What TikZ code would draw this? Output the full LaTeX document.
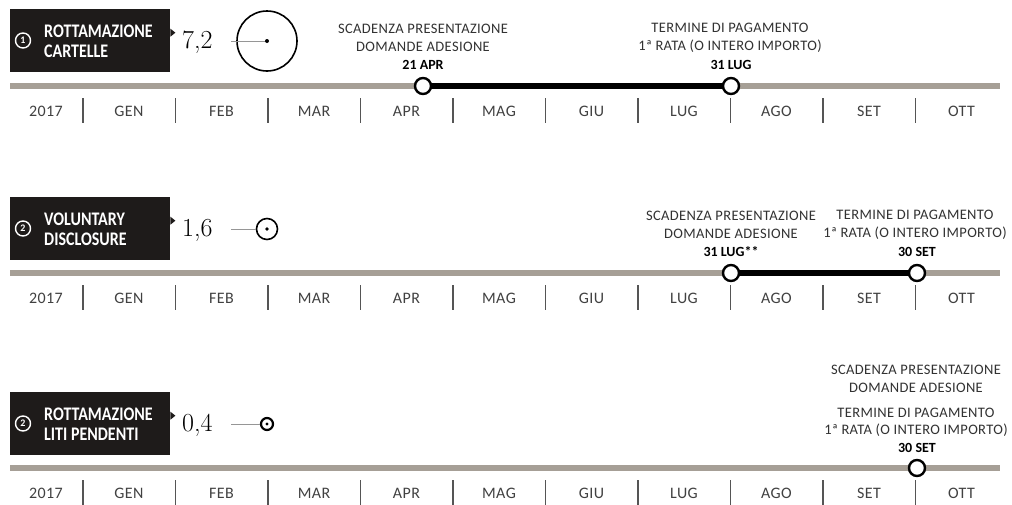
\documentclass[tikz,border=0pt]{standalone}
\usepackage{fontspec}
\newfontfamily\sans{Carlito}
\newfontfamily\sanswide[LetterSpace=2.5]{Carlito}
\definecolor{barc}{RGB}{166,159,150}
\definecolor{boxc}{RGB}{30,27,26}
\definecolor{annc}{RGB}{50,50,50}
\definecolor{monc}{RGB}{65,65,65}
\definecolor{tickc}{RGB}{85,85,85}
\definecolor{leadc}{RGB}{150,150,150}
\newcommand{\tall}[1]{\scalebox{1}[1.2]{#1}}
\tikzset{
  bar/.style={draw=barc, line width=5.5pt},
  seg/.style={draw=black, line width=5.5pt},
  mark circ/.style={circle, draw=black, fill=white, line width=2.4pt, minimum size=16pt, inner sep=0pt},
  tickln/.style={draw=tickc, line width=1.3pt},
  month/.style={font=\sanswide\fontsize{16}{18}\selectfont, text=monc, inner sep=0pt},
  ann/.style={font=\sanswide\fontsize{14.5}{17.5}\selectfont, text=annc, align=center, inner sep=0pt},
  datelbl/.style={font=\sans\bfseries\fontsize{14}{16}\selectfont, text=black, inner sep=0pt},
  labelbox/.style={fill=boxc, minimum width=160pt, minimum height=63pt, inner sep=0pt, anchor=north west},
  title/.style={font=\sans\bfseries\fontsize{16}{20}\selectfont, text=white, align=left, inner sep=0pt, anchor=west},
  numc/.style={circle, draw=white, line width=1.4pt, minimum size=15pt, inner sep=0pt, text=white, font=\sans\bfseries\fontsize{10}{10}\selectfont},
  val/.style={font=\fontsize{26}{28}\selectfont, inner sep=0pt, anchor=west},
  lead/.style={draw=leadc, line width=0.9pt},
  pointer/.style={fill=boxc}
}
\newcommand{\timeline}[1]{%
  \draw[bar] (10,#1) -- (1000,#1);
  \foreach \k in {0,...,9} \draw[tickln] ({83+92.5*\k},{#1+12}) -- ({83+92.5*\k},{#1+37});
  \node[month] at (46,{#1+25}) {2017};
  \foreach \m [count=\i from 0] in {GEN,FEB,MAR,APR,MAG,GIU,LUG,AGO,SET,OTT}
    \node[month] at ({129+92.5*\i},{#1+25}) {\m};
}
\begin{document}
\begin{tikzpicture}[x=1pt,y=-1pt]
\useasboundingbox[fill=white] (0,0) rectangle (1012,504);

% ---------- 1: rottamazione cartelle ----------
\timeline{86}
\node[labelbox] (b1) at (10,9) {};
\fill[pointer] ([yshift=4pt]b1.east) -- ++(5,-4) -- ++(-5,-4) -- cycle;
\node[numc] (n1) at (23,40.5) {1};
\node[title] (t1) at (44,41) {\tall{ROTTAMAZIONE}\\\tall{CARTELLE}};
\node[val] (v1) at (182,42) {7,2};
\node[circle, draw=black, line width=1.6pt, minimum size=60pt, inner sep=0pt] (k1) at (267,41) {};
\coordinate (l1) at (231,41);
\draw[lead] (l1) -- (k1.center);
\fill (k1.center) circle (2);
\coordinate (p11) at (423,86);
\coordinate (p12) at (731,86);
\draw[seg] (p11) -- (p12);
\node[mark circ] (c11) at (p11) {};
\node[mark circ] (c12) at (p12) {};
\node[ann] (a11) at (423,38) {SCADENZA PRESENTAZIONE\\DOMANDE ADESIONE};
\node[datelbl] (d11) at (423,65) {21 APR};
\node[ann] (a12) at (730,38) {TERMINE DI PAGAMENTO\\1ª RATA (O INTERO IMPORTO)};
\node[datelbl] (d12) at (731,65) {31 LUG};

% ---------- 2: voluntary disclosure ----------
\timeline{273}
\node[labelbox] (b2) at (10,197) {};
\fill[pointer] ([yshift=4pt]b2.east) -- ++(5,-4) -- ++(-5,-4) -- cycle;
\node[numc] (n2) at (23,228.5) {2};
\node[title] (t2) at (44,229) {\tall{VOLUNTARY}\\\tall{DISCLOSURE}};
\node[val] (v2) at (182,230) {1,6};
\node[circle, draw=black, line width=1.6pt, minimum size=21pt, inner sep=0pt] (k2) at (267,229) {};
\coordinate (l2) at (231,229);
\draw[lead] (l2) -- (k2.west);
\fill (k2.center) circle (1.8);
\coordinate (p21) at (731,273);
\coordinate (p22) at (917,273);
\draw[seg] (p21) -- (p22);
\node[mark circ] (c21) at (p21) {};
\node[mark circ] (c22) at (p22) {};
\node[ann] (a21) at (731,225) {SCADENZA PRESENTAZIONE\\DOMANDE ADESIONE};
\node[datelbl] (d21) at (731,252) {31 LUG**};
\node[ann] (a22) at (915,225) {TERMINE DI PAGAMENTO\\1ª RATA (O INTERO IMPORTO)};
\node[datelbl] (d22) at (917,252) {30 SET};

% ---------- 3: rottamazione liti pendenti ----------
\timeline{468}
\node[labelbox] (b3) at (10,392) {};
\fill[pointer] ([yshift=4pt]b3.east) -- ++(5,-4) -- ++(-5,-4) -- cycle;
\node[numc] (n3) at (23,423.5) {2};
\node[title] (t3) at (44,424) {\tall{ROTTAMAZIONE}\\\tall{LITI PENDENTI}};
\node[val] (v3) at (182,425) {0,4};
\node[circle, draw=black, line width=2.2pt, minimum size=12pt, inner sep=0pt] (k3) at (267,424) {};
\coordinate (l3) at (231,424);
\draw[lead] (l3) -- (k3.west);
\fill (k3.center) circle (1.6);
\coordinate (p31) at (917,468);
\node[mark circ] (c31) at (p31) {};
\node[ann] (a31) at (916,379) {SCADENZA PRESENTAZIONE\\DOMANDE ADESIONE};
\node[ann] (a32) at (916,422.5) {TERMINE DI PAGAMENTO\\1ª RATA (O INTERO IMPORTO)};
\node[datelbl] (d31) at (917,448) {30 SET};
\end{tikzpicture}
\end{document}
